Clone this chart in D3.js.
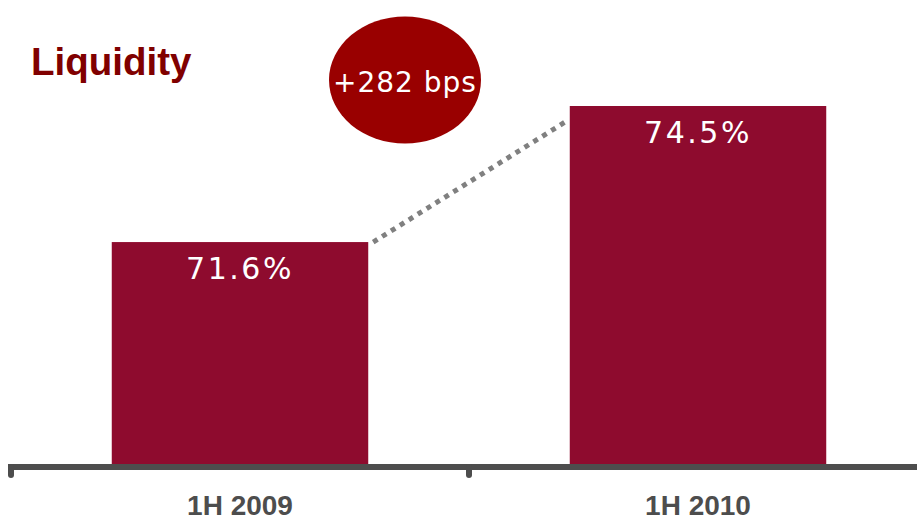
<!DOCTYPE html>
<html>
<head>
<meta charset="utf-8">
<script src="https://cdn.jsdelivr.net/npm/d3@7"></script>
<style>
  body { margin: 0; background: #fff; }
  svg { display: block; }
</style>
</head>
<body>
<div class="chart-container"></div>
<script>
// data
var periods = ['1H 2009', '1H 2010'];
var liquidity = [71.6, 74.5];
var valueLabels = ['71.6%', '74.5%'];
var changeLabel = '+282 bps';
var title = 'Liquidity';

var width = 917, height = 520;
var baseline = 464;

var svg = d3.select('.chart-container').append('svg')
    .attr('width', width)
    .attr('height', height);

// bands span from the first tick to past the right edge
var x = d3.scaleBand()
    .domain(periods)
    .range([11, 927])
    .paddingInner(0.44)
    .paddingOuter(0.22);

// truncated value axis, as on the slide
var y = d3.scaleLinear()
    .domain([66.87, 74.5])
    .range([baseline, 106]);

// bars
svg.selectAll('.bar')
    .data(periods)
  .enter().append('rect')
    .attr('class', 'bar')
    .attr('x', function (d) { return x(d); })
    .attr('y', function (d, i) { return y(liquidity[i]); })
    .attr('width', x.bandwidth())
    .attr('height', function (d, i) { return baseline - y(liquidity[i]); })
    .style('fill', '#8e0b2e');

// value labels inside bars
svg.selectAll('.value')
    .data(periods)
  .enter().append('text')
    .attr('class', 'value')
    .attr('x', function (d) { return x(d) + x.bandwidth() / 2; })
    .attr('y', function (d, i) { return y(liquidity[i]) + 37; })
    .attr('text-anchor', 'middle')
    .style('font-family', '"DejaVu Sans", sans-serif')
    .style('font-size', '30px')
    .style('letter-spacing', '2.5px')
    .style('fill', '#fff')
    .text(function (d, i) { return valueLabels[i]; });

// dotted connector between the bar tops
svg.append('line')
    .attr('x1', x(periods[0]) + x.bandwidth() + 5)
    .attr('y1', y(liquidity[0]))
    .attr('x2', x(periods[1]) - 3)
    .attr('y2', y(liquidity[1]) + 15)
    .style('stroke', '#808080')
    .style('stroke-width', 5)
    .style('stroke-dasharray', '5,5.5');

// axis line with ticks at band edges
var axisG = svg.append('g').attr('class', 'x axis');

axisG.append('line')
    .attr('x1', 8)
    .attr('x2', width)
    .attr('y1', baseline + 3)
    .attr('y2', baseline + 3)
    .style('stroke', '#4d4d4d')
    .style('stroke-width', 6);

axisG.selectAll('.tick')
    .data(periods)
  .enter().append('line')
    .attr('class', 'tick')
    .attr('x1', function (d) { return x(d) - x.step() * 0.22; })
    .attr('x2', function (d) { return x(d) - x.step() * 0.22; })
    .attr('y1', baseline + 3)
    .attr('y2', baseline + 11)
    .style('stroke', '#4d4d4d')
    .style('stroke-width', 6)
    .style('stroke-linecap', 'round');

axisG.selectAll('.label')
    .data(periods)
  .enter().append('text')
    .attr('class', 'label')
    .attr('x', function (d) { return x(d) + x.bandwidth() / 2; })
    .attr('y', 515)
    .attr('text-anchor', 'middle')
    .style('font-family', '"Liberation Sans", Arial, sans-serif')
    .style('font-weight', 'bold')
    .style('font-size', '28px')
    .style('fill', '#4d4d4d')
    .text(function (d) { return d; });

// title
svg.append('text')
    .attr('x', 31)
    .attr('y', 75)
    .style('font-family', '"Liberation Sans", Arial, sans-serif')
    .style('font-weight', 'bold')
    .style('font-size', '38.5px')
    .style('fill', '#800000')
    .text(title);

// change bubble
svg.append('ellipse')
    .attr('cx', 405)
    .attr('cy', 80)
    .attr('rx', 76)
    .attr('ry', 63.5)
    .style('fill', '#990000');

svg.append('text')
    .attr('x', 405)
    .attr('y', 92)
    .attr('text-anchor', 'middle')
    .style('font-family', '"DejaVu Sans", sans-serif')
    .style('font-size', '28px')
    .style('letter-spacing', '1px')
    .style('fill', '#fff')
    .text(changeLabel);
</script>
</body>
</html>
